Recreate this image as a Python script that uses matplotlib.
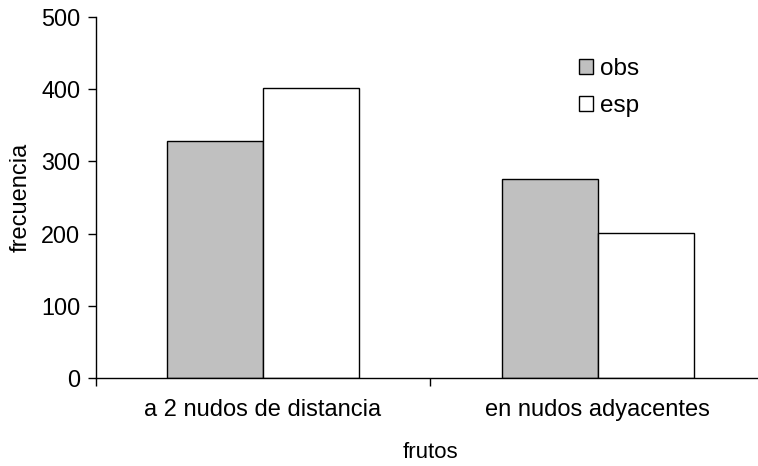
import matplotlib
matplotlib.use("Agg")
import matplotlib.pyplot as plt
from matplotlib.patches import Patch
import numpy as np

categories = ["a 2 nudos de distancia", "en nudos adyacentes"]
obs = [328, 275]
esp = [402, 201]
series_names = ["obs", "esp"]

plt.rcParams["font.family"] = ["Liberation Sans", "DejaVu Sans"]

W, H = 758, 466
fig = plt.figure(figsize=(W / 100, H / 100), dpi=100)
left, right, bottom, top = 95.7, 765.0, 378.3, 16.7
ax = fig.add_axes([left / W, (H - bottom) / H, (right - left) / W, (bottom - top) / H])

x = np.arange(len(categories))
bw = 0.287
ax.bar(x - bw / 2, obs, width=bw, color="#c0c0c0", edgecolor="black", linewidth=1.0)
ax.bar(x + bw / 2, esp, width=bw, color="white", edgecolor="black", linewidth=1.0)

ax.set_xlim(-0.5, len(categories) - 0.5)
ax.set_ylim(0, 500)
ax.set_yticks(np.arange(0, 501, 100))
ax.tick_params(axis="y", length=6, width=1, labelsize=16.8, pad=5, direction="out")

# category boundaries carry the tick marks, category centres carry the labels
ax.set_xticks(np.arange(-0.5, len(categories), 1.0))
ax.set_xticklabels([])
ax.tick_params(axis="x", which="major", length=6, width=1, direction="out")
ax.set_xticks(x, minor=True)
ax.set_xticklabels(categories, minor=True)
ax.tick_params(axis="x", which="minor", length=0, labelsize=17, pad=15)

for s in ["top", "right"]:
    ax.spines[s].set_visible(False)
for s in ["left", "bottom"]:
    ax.spines[s].set_linewidth(1.0)

fig.text(21 / W, 1 - 197.5 / H, "frecuencia", rotation=90, ha="center", va="center", fontsize=17)
fig.text(430 / W, 1 - 452 / H, "frutos", ha="center", va="center", fontsize=16)

handles = [Patch(facecolor="#c0c0c0", edgecolor="black", linewidth=1.0),
           Patch(facecolor="white", edgecolor="black", linewidth=1.0)]
fig.legend(handles, series_names, loc="upper left", bbox_to_anchor=(579 / W, 1 - 58 / H),
           frameon=False, fontsize=17.5, handlelength=0.58, handleheight=0.58,
           handletextpad=0.3, labelspacing=0.63, borderpad=0, borderaxespad=0)

fig.savefig("out.png", dpi=100)
